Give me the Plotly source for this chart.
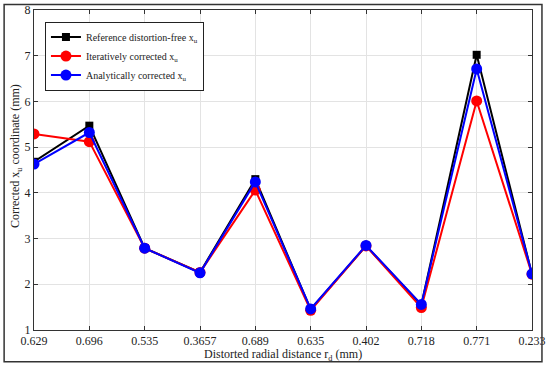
import plotly.graph_objects as go

categories = ["0.629", "0.696", "0.535", "0.3657", "0.689", "0.635", "0.402", "0.718", "0.771", "0.233"]
reference_xu = [4.68, 5.47, 2.79, 2.26, 4.30, 1.45, 2.84, 1.55, 7.02, 2.22]
iterative_xu = [5.29, 5.12, 2.79, 2.26, 4.06, 1.43, 2.84, 1.49, 6.01, 2.22]
analytic_xu = [4.63, 5.32, 2.79, 2.25, 4.24, 1.46, 2.85, 1.56, 6.71, 2.23]
y_ticks = [1, 2, 3, 4, 5, 6, 7, 8]

FONT = "Liberation Serif"
TXT = "#222222"

fig = go.Figure()
fig.add_trace(go.Scatter(
    x=categories, y=reference_xu, mode="lines+markers",
    name="Reference distortion-free x<sub>u</sub>",
    line=dict(color="black", width=2),
    marker=dict(symbol="square", size=8, color="black"),
))
fig.add_trace(go.Scatter(
    x=categories, y=iterative_xu, mode="lines+markers",
    name="Iteratively corrected x<sub>u</sub>",
    line=dict(color="#ff0000", width=2),
    marker=dict(symbol="circle", size=11, color="#ff0000"),
))
fig.add_trace(go.Scatter(
    x=categories, y=analytic_xu, mode="lines+markers",
    name="Analytically corrected x<sub>u</sub>",
    line=dict(color="#0000ff", width=2),
    marker=dict(symbol="circle", size=11, color="#0000ff"),
))

axis_common = dict(
    showline=True, linecolor="#333333", linewidth=1,
    mirror="ticks", ticks="inside", ticklen=4, tickcolor="#333333",
    showgrid=True, gridcolor="#e3e3e3", gridwidth=1,
    zeroline=False,
    tickfont=dict(family=FONT, size=12, color=TXT),
)

fig.update_xaxes(
    type="category", categoryorder="array", categoryarray=categories,
    range=[0, 9], automargin=False,
    **axis_common,
)
fig.update_yaxes(
    range=[1, 8], tickvals=y_ticks, automargin=False,
    **axis_common,
)

# axis titles as annotations (paper coords)
fig.add_annotation(
    text="Distorted radial distance r<sub>d</sub> (mm)",
    xref="paper", yref="paper", x=0.5, y=-0.079, xanchor="center", yanchor="middle",
    showarrow=False, font=dict(family=FONT, size=12, color=TXT),
)
fig.add_annotation(
    text="Corrected x<sub>u</sub> coordinate (mm)",
    xref="paper", yref="paper", x=-0.036, y=0.544, xanchor="center", yanchor="middle",
    textangle=-90, showarrow=False, font=dict(family=FONT, size=12, color=TXT),
)

# outer image frame
fig.add_shape(type="rect", xref="paper", yref="paper",
              x0=-0.060, x1=1.020, y0=-0.099, y1=1.017,
              line=dict(color="#333333", width=1.5), fillcolor="rgba(0,0,0,0)",
              layer="above")

fig.update_layout(
    width=550, height=366,
    margin=dict(l=34, r=18, t=10, b=36),
    paper_bgcolor="white", plot_bgcolor="white",
    font=dict(family=FONT, size=12, color=TXT),
    showlegend=True,
    legend=dict(
        x=0.022, y=0.964, xanchor="left", yanchor="top",
        bgcolor="white", bordercolor="#222222", borderwidth=1,
        font=dict(family=FONT, size=10, color=TXT),
        tracegroupgap=0, itemwidth=30,
    ),
)

fig.write_html("out.html", config={"displayModeBar": False},
               post_script="document.body.style.margin='0px';")
